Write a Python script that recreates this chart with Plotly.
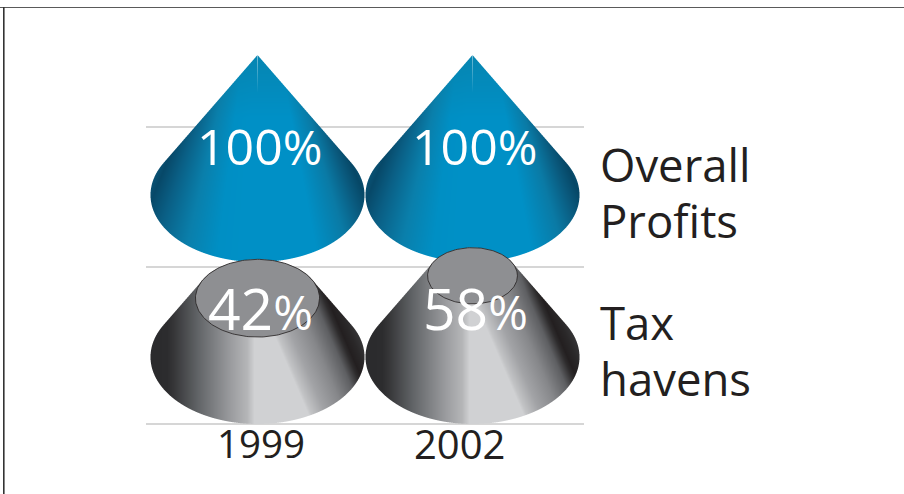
import numpy as np
import plotly.graph_objects as go

# ---- data ----
years = ["1999", "2002"]
overall_profits = [100, 100]
tax_havens = [42, 58]
series_labels = [["Overall", "Profits"], ["Tax", "havens"]]

# ---- layout (pixel-based axes) ----
W, H = 904, 494
CENTERS = [257.5, 472.5]
BASES = [195.0, 357.0]      # base ellipse centre y for each row
RX, RY = 107.0, 67.0        # base ellipse radii
CONE_H = 140.0              # height of a 100% cone
GRID_Y = [127, 267, 424]
GRID_X = (146, 584)
INK = "#231f20"
CAP = "#8e8f92"

BLUE = [(-1.3, "#0f6d94"), (-1.1, "#0b5a7e"), (-0.97, "#074868"), (-0.8, "#0a5f85"), (-0.55, "#0a7fab"),
        (-0.3, "#008fc4"), (-0.1, "#0090c6"), (0.45, "#0090c6"), (0.7, "#0a7aa5"), (0.88, "#0a5a7e"),
        (1.0, "#064766"), (1.12, "#0b5a7e"), (1.3, "#0f6d94")]
GREY_LEFT = [(-110, "#2a2a2c"), (-90, "#2c2c2e"), (-84, "#353537"), (-60, "#606366"), (-27, "#9a9b9e"),
             (-10, "#b5b6b8"), (-3, "#d0d1d3"), (0, "#d0d1d3")]
GREY_RIGHT = [(0, "#d0d1d3"), (0.05, "#c2c3c5"), (0.25, "#a2a3a6"), (0.54, "#86878a"), (0.8, "#5e5f62"),
              (0.94, "#2e2c2d"), (1.0, "#231f20"), (1.12, "#2a2829"), (1.3, "#3c3c3e"), (1.6, "#555659")]


def rgb(h):
    return [int(h[i:i + 2], 16) for i in (1, 3, 5)]


def ramp(u, stops):
    xs = [s[0] for s in stops]
    cols = np.array([rgb(s[1]) for s in stops], float)
    return np.stack([np.interp(u, xs, cols[:, i]) for i in range(3)], axis=-1)


def cone_mask(px, py, cx, base_y, value):
    """Cone (or frustum when value < 100) silhouette; value = share of full height kept."""
    apex = base_y - CONE_H
    s = 1 - value / 100.0
    dx = px - cx
    in_base = (dx / RX) ** 2 + ((py - base_y) / RY) ** 2 <= 1
    ty = CONE_H - RY ** 2 / CONE_H          # tangent height below apex for the full cone
    tx = RX * np.sqrt(1 - (RY / CONE_H) ** 2)
    rel = py - apex
    in_tri = (np.abs(dx) <= tx / ty * rel) & (rel >= 0) & (rel <= ty)
    mask = in_base | in_tri
    if s > 0:
        top_cy = base_y - CONE_H * value / 100.0
        in_top = (dx / (RX * s)) ** 2 + ((py - top_cy) / (RY * s)) ** 2 <= 1
        mask = mask & ~((rel < ty * s) & ~in_top)
    return mask


def blue_colour(dx, y, base_y):
    rel = (y - (base_y - CONE_H)) / CONE_H
    u = dx / (RX * (0.45 + 0.55 * rel))
    col = ramp(np.clip(u, -1.3, 1.3), BLUE)
    # upper part of the cone is slightly duller, with a faint highlight on the axis
    fade = np.clip(1 - rel / 0.45, 0, 1)[..., None] * 0.6
    col = col + (np.array(rgb("#0a7ea3"), float) - col) * fade
    line = np.clip(1 - np.abs(dx), 0, 1) * np.clip(1 - rel / 0.27, 0, 1) * 0.45
    return col + (255 - col) * line[..., None]


def grey_colour(dx, y, base_y):
    b = np.maximum(0.43 * (y - base_y + 61), 0)
    r = 0.43 * (y - base_y + 221)
    t = np.clip((dx - b) / np.maximum(r - b, 1), 0, 1.6)
    left = ramp(np.clip(dx, -110, 0), GREY_LEFT)
    right = ramp(t, GREY_RIGHT)
    return np.where((dx < 0)[..., None], left, right)


def cone_image(cx, base_y, value, colour):
    x0, x1 = int(cx - RX - 3), int(cx + RX + 3)
    y0, y1 = int(base_y - CONE_H - 2), int(base_y + RY + 3)
    xs = np.arange(x0, x1) + 0.5
    ys = np.arange(y0, y1) + 0.5
    X, Y = np.meshgrid(xs, ys)
    SS = 4
    off = (np.arange(SS) + 0.5) / SS - 0.5
    cov = np.zeros_like(X)
    for a in off:
        for b in off:
            cov += cone_mask(X + a, Y + b, cx, base_y, value)
    cov /= SS * SS
    col = colour(X - cx, Y, base_y)
    img = np.concatenate([col, cov[..., None]], axis=-1)
    return go.Image(z=img.tolist(), colormodel="rgba", x0=float(xs[0]), y0=float(ys[0]), dx=1, dy=1,
                    hoverinfo="skip", zmin=[0, 0, 0, 0], zmax=[255, 255, 255, 1])


fig = go.Figure()
for cx, v in zip(CENTERS, overall_profits):
    fig.add_trace(cone_image(cx, BASES[0], v, blue_colour))
for cx, v in zip(CENTERS, tax_havens):
    fig.add_trace(cone_image(cx, BASES[1], v, grey_colour))
    s = 1 - v / 100.0
    t = np.linspace(0, 2 * np.pi, 181)
    fig.add_trace(go.Scatter(
        x=cx + RX * s * np.cos(t),
        y=BASES[1] - CONE_H * v / 100.0 + RY * s * np.sin(t),
        mode="lines", fill="toself", fillcolor=CAP, line=dict(color=INK, width=0.8), hoverinfo="skip"))

shapes = [dict(type="line", layer="below", x0=GRID_X[0], x1=GRID_X[1], y0=y, y1=y,
               line=dict(color="#c8c8c8", width=1.3)) for y in GRID_Y]
shapes += [dict(type="line", x0=0, x1=W, y0=7.5, y1=7.5, line=dict(color="#5a5a5a", width=1.2)),
           dict(type="line", x0=3.8, x1=3.8, y0=7, y1=H, line=dict(color="#333333", width=1.6))]


def pct(v, size=48):
    return f'{v}<span style="font-size:{size}px">%</span>'


ann = []
FONT = "Open Sans"
for cx, v in zip(CENTERS, overall_profits):
    ann.append(dict(x=cx + 2, y=146, text=pct(v), font=dict(color="white", size=50, family=FONT)))
for cx, v in zip(CENTERS, tax_havens):
    ann.append(dict(x=cx + 3, y=308, text=pct(v), font=dict(color="white", size=57, family=FONT)))
year_x = [261, 459.5]
year_size = [38.5, 40]
for x, yr, sz in zip(year_x, years, year_size):
    ann.append(dict(x=x, y=443, text=yr, font=dict(color=INK, size=sz, family=FONT)))
rows = [(164, 220), (322, 378)]
for lines, ys in zip(series_labels, rows):
    for txt, y in zip(lines, ys):
        ann.append(dict(x=598, y=y, text=txt, xanchor="left", font=dict(color=INK, size=45.5, family=FONT)))
for a in ann:
    a.update(xref="x", yref="y", showarrow=False, yanchor="middle")
    a.setdefault("xanchor", "center")

fig.update_layout(
    width=W, height=H, margin=dict(l=0, r=0, t=0, b=0), showlegend=False,
    paper_bgcolor="white", plot_bgcolor="white",
    xaxis=dict(range=[0, W], visible=False, fixedrange=True),
    yaxis=dict(range=[H, 0], visible=False, fixedrange=True),
    shapes=shapes, annotations=ann,
)
fig.write_html("out.html", config=dict(displayModeBar=False),
               post_script="document.body.style.margin='0';document.body.style.overflow='hidden';")
